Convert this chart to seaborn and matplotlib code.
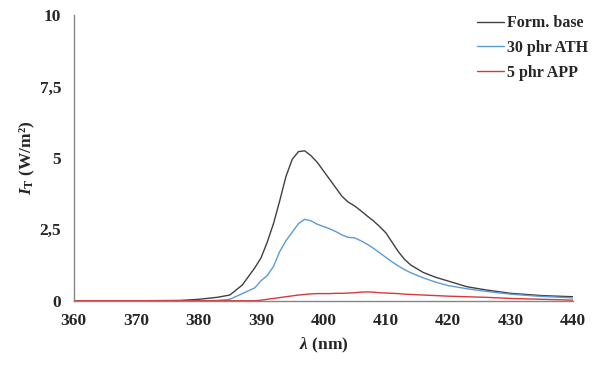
import matplotlib
matplotlib.use('Agg')
import matplotlib.pyplot as plt
import seaborn as sns
import pandas as pd

# Wavelength samples (nm) and transmitted irradiance (W/m2)
wavelength = [360, 370, 377, 380, 383, 385, 387, 389, 390, 391, 392, 393, 394,
              395, 396, 397, 398, 399, 400, 401, 402, 403, 404, 405, 406, 407,
              408, 409, 410, 411, 412, 413, 414, 416, 418, 420, 423, 426, 430, 435, 440]

form_base = [0, 0, 0.01, 0.05, 0.12, 0.2, 0.55, 1.15, 1.5, 2.05, 2.7, 3.5, 4.35,
             4.95, 5.22, 5.25, 5.08, 4.85, 4.55, 4.25, 3.95, 3.65, 3.45, 3.32, 3.15, 2.97,
             2.8, 2.6, 2.38, 2.05, 1.72, 1.45, 1.25, 0.99, 0.82, 0.69, 0.49, 0.38, 0.26, 0.18, 0.14]

ath_30 = [0, 0, 0, 0, 0.01, 0.05, 0.25, 0.45, 0.7, 0.88, 1.2, 1.72, 2.1,
          2.4, 2.7, 2.85, 2.8, 2.68, 2.6, 2.52, 2.42, 2.3, 2.22, 2.2, 2.1, 1.98,
          1.84, 1.68, 1.52, 1.36, 1.22, 1.09, 0.98, 0.8, 0.65, 0.53, 0.42, 0.33, 0.23, 0.15, 0.1]

app_5 = [0, 0, 0, 0, 0, 0, 0, 0, 0.02, 0.05, 0.08, 0.11, 0.14,
         0.17, 0.2, 0.22, 0.24, 0.25, 0.25, 0.25, 0.26, 0.26, 0.27, 0.28, 0.3, 0.31,
         0.3, 0.28, 0.27, 0.26, 0.25, 0.23, 0.22, 0.2, 0.18, 0.16, 0.14, 0.12, 0.08, 0.05, 0.02]

labels = ['Form. base', '30 phr ATH', '5 phr APP']
colors = ['#404040', '#5b9bd5', '#d9383a']

df = pd.concat([
    pd.DataFrame({'lambda': wavelength, 'I': vals, 'serie': lab})
    for vals, lab in zip([form_base, ath_30, app_5], labels)
])

sns.set_style('white')
plt.rcParams['font.family'] = ['Liberation Serif', 'DejaVu Serif']
plt.rcParams['font.weight'] = 'bold'
plt.rcParams['mathtext.fontset'] = 'custom'
plt.rcParams['mathtext.rm'] = 'Liberation Serif:bold'
plt.rcParams['mathtext.bf'] = 'Liberation Serif:bold'
plt.rcParams['mathtext.it'] = 'Liberation Serif:italic:bold'
plt.rcParams['mathtext.bfit'] = 'Liberation Serif:italic:bold'

fig = plt.figure(figsize=(6, 3.69), dpi=100)
ax = fig.add_axes([0.123, 0.185, 0.832, 0.774])

sns.lineplot(data=df, x='lambda', y='I', hue='serie', palette=colors,
             hue_order=labels, linewidth=1.0, ax=ax, legend=False)

ax.set_xlim(360, 440)
ax.set_ylim(0, 10)
ax.set_xticks(range(360, 441, 10))
ax.set_yticks([0, 2.5, 5, 7.5, 10])
ax.set_yticklabels(['0', '2,5', '5', '7,5', '10'])

for s in ['top', 'right']:
    ax.spines[s].set_visible(False)
for s in ['left', 'bottom']:
    ax.spines[s].set_color('#868686')
    ax.spines[s].set_linewidth(1.0)
ax.tick_params(axis='both', direction='out', length=4, width=1, color='#868686',
               labelsize=12.5, pad=5)
for t in ax.get_xticklabels() + ax.get_yticklabels():
    t.set_fontweight('bold')

ax.set_xlabel(r'$\mathit{λ}$ (nm)', fontsize=12.5, fontweight='bold', labelpad=5)
ax.set_ylabel(r'$\mathit{I}_{\mathrm{T}}$ (W/m²)', fontsize=12.5, fontweight='bold', labelpad=2)

handles = [plt.Line2D([], [], color=c, lw=1.0) for c in colors]
ax.legend(handles, labels, loc='upper right', bbox_to_anchor=(1.06, 1.05),
          frameon=False, handlelength=1.7, handletextpad=0.2, labelspacing=0.55,
          prop={'family': 'Liberation Serif', 'weight': 'bold', 'size': 11.5})

fig.savefig('out.png', dpi=100)
